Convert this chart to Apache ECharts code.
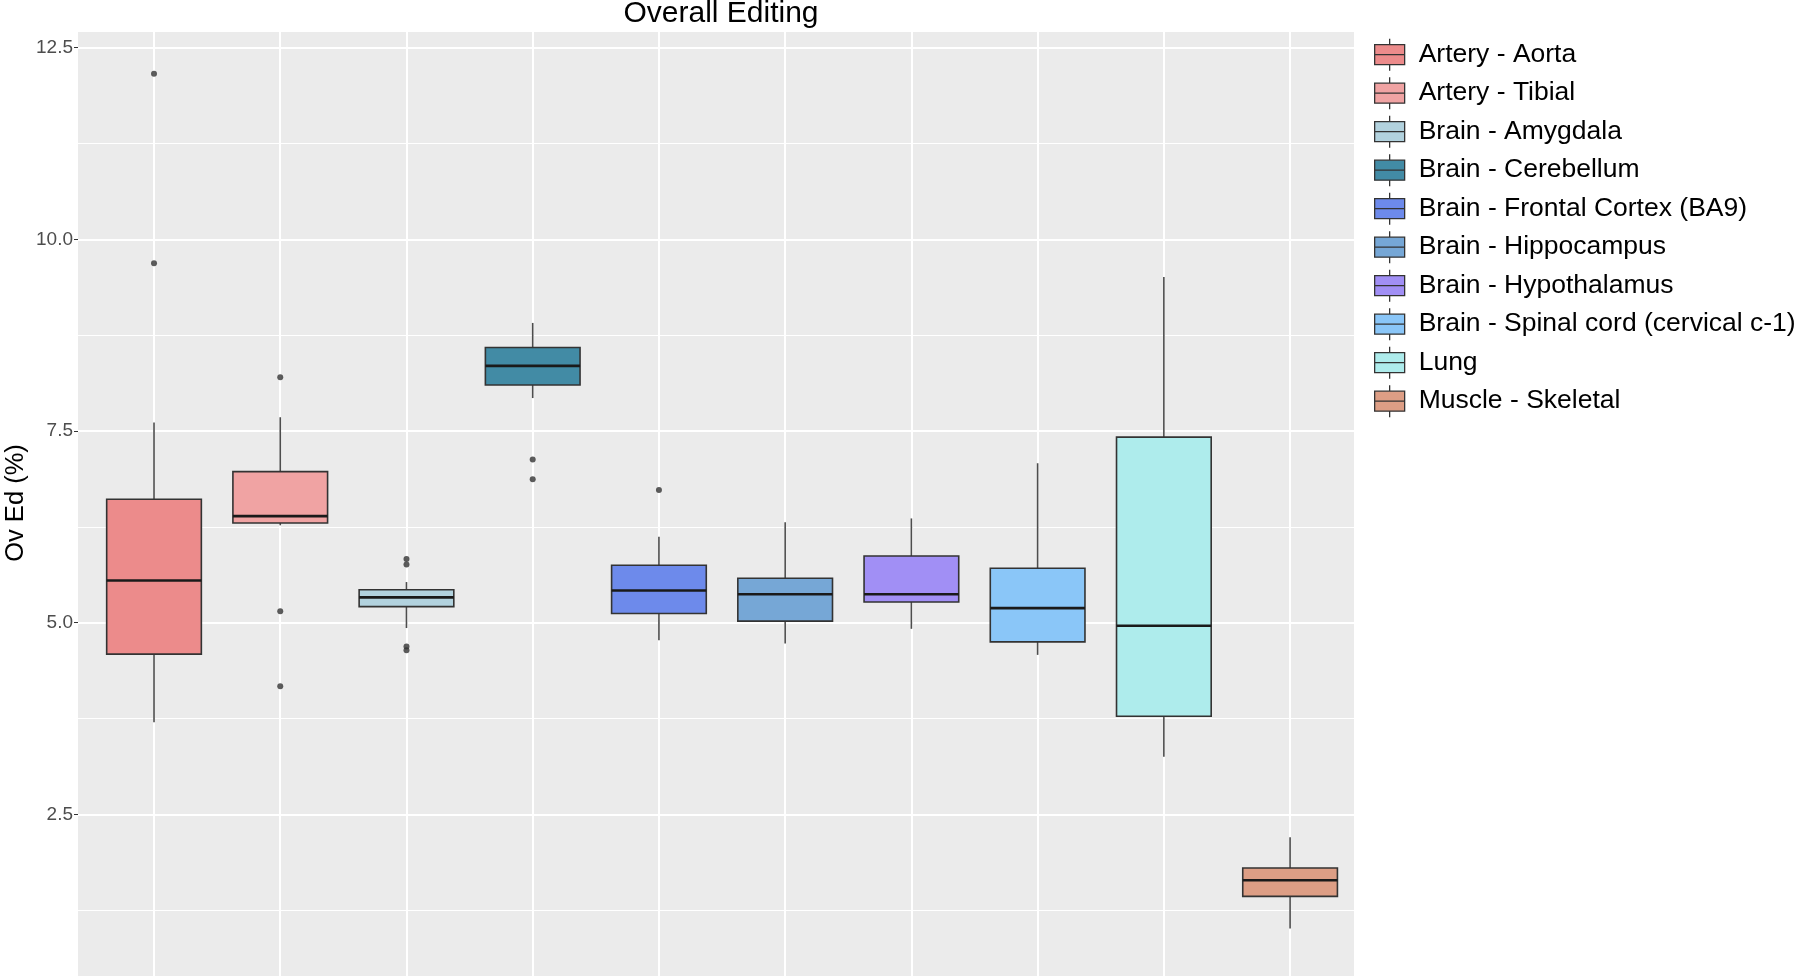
<!DOCTYPE html>
<html>
<head>
<meta charset="utf-8">
<title>Overall Editing</title>
<script src="https://cdn.jsdelivr.net/npm/echarts@6/dist/echarts.min.js"></script>
<style>
  html, body { margin: 0; padding: 0; background: #fff; }
  #main { width: 1800px; height: 976px; }
</style>
</head>
<body>
<div id="main"></div>
<script>
// tissues, in legend order
var tissues = [
  'Artery - Aorta',
  'Artery - Tibial',
  'Brain - Amygdala',
  'Brain - Cerebellum',
  'Brain - Frontal Cortex (BA9)',
  'Brain - Hippocampus',
  'Brain - Hypothalamus',
  'Brain - Spinal cord (cervical c-1)',
  'Lung',
  'Muscle - Skeletal'
];
// box stats
var whiskerLow = [3.70, 6.27, 4.93, 7.93, 4.77, 4.73, 4.92, 4.58, 3.25, 1.01];
var q1         = [4.59, 6.30, 5.21, 8.10, 5.12, 5.02, 5.27, 4.75, 3.78, 1.43];
var median     = [5.55, 6.39, 5.33, 8.35, 5.42, 5.37, 5.37, 5.19, 4.96, 1.64];
var q3         = [6.61, 6.97, 5.43, 8.59, 5.75, 5.58, 5.87, 5.71, 7.42, 1.80];
var whiskerHigh= [7.61, 7.68, 5.53, 8.91, 6.12, 6.31, 6.36, 7.08, 9.51, 2.20];
var outliers = [
  [12.16, 9.69],
  [8.20, 5.15, 4.17],
  [5.83, 5.76, 4.69, 4.64],
  [7.13, 6.87],
  [6.73],
  [], [], [], [], []
];
var fills = ['#EC8B8B', '#F0A3A3', '#B2D2DE', '#428BA5', '#6D8AEB',
             '#76A7D6', '#A18FF5', '#8AC6F8', '#AEECEC', '#DD9E85'];
var yTicks = [2.5, 5.0, 7.5, 10.0, 12.5];

var myChart = echarts.init(document.getElementById('main'));

// box without whisker caps, like ggplot
var renderBox = function (params, api) {
  var x = api.value(0);
  var lo = api.coord([x, api.value(1)]);
  var b1 = api.coord([x, api.value(2)]);
  var md = api.coord([x, api.value(3)]);
  var b3 = api.coord([x, api.value(4)]);
  var hi = api.coord([x, api.value(5)]);
  var w = api.size([1, 0])[0] * 0.75;
  var whisker = { stroke: '#4d4d4d', lineWidth: 1.6 };
  return {
    type: 'group',
    children: [
      { type: 'line', shape: { x1: lo[0], y1: lo[1], x2: b1[0], y2: b1[1] }, style: whisker },
      { type: 'line', shape: { x1: hi[0], y1: hi[1], x2: b3[0], y2: b3[1] }, style: whisker },
      { type: 'rect', shape: { x: md[0] - w / 2, y: b3[1], width: w, height: b1[1] - b3[1] },
        style: { fill: api.visual('color'), stroke: '#333', lineWidth: 1.6 } },
      { type: 'line', shape: { x1: md[0] - w / 2, y1: md[1], x2: md[0] + w / 2, y2: md[1] },
        style: { stroke: '#1a1a1a', lineWidth: 2.6 } }
    ]
  };
}

var series = tissues.map(function (name, i) {
  return {
    name: name,
    type: 'custom',
    xAxisIndex: 1,
    yAxisIndex: 1,
    renderItem: renderBox,
    itemStyle: { color: fills[i] },
    encode: { x: 0, y: [1, 2, 3, 4, 5] },
    data: [[i, whiskerLow[i], q1[i], median[i], q3[i], whiskerHigh[i]]],
    z: 3
  };
});

var outlierData = [];
outliers.forEach(function (list, i) {
  list.forEach(function (v) { outlierData.push([i, v]); });
});
series.push({
  name: 'outliers',
  type: 'scatter',
  xAxisIndex: 1,
  yAxisIndex: 1,
  data: outlierData,
  symbolSize: 6,
  itemStyle: { color: '#333' },
  z: 4
});

var font = 'Liberation Sans, Arial, sans-serif';
var option = {
  animation: false,
  backgroundColor: '#fff',
  textStyle: { fontFamily: font },
  title: {
    text: 'Overall Editing',
    left: 716,
    textAlign: 'center',
    top: -6,
    textStyle: { fontSize: 30, fontWeight: 'normal', color: '#000' }
  },
  legend: {
    data: tissues,
    orient: 'vertical',
    left: 1374,
    top: 38,
    padding: 0,
    itemWidth: 30,
    itemHeight: 32,
    itemGap: 5.2,
    icon: 'path://M15,0 L15,6 M0,6 L30,6 L30,26 L0,26 Z M0,16 L30,16 M15,26 L15,32',
    itemStyle: { borderColor: '#333', borderWidth: 1.3 },
    textStyle: { fontSize: 26.5, lineHeight: 32, color: '#000', padding: [0, 0, 0, 9] },
    selectedMode: false
  },
  graphic: [{
    type: 'rect',
    z: -10,
    silent: true,
    shape: { x: 78, y: 32, width: 1276, height: 944 },
    style: { fill: '#EBEBEB' }
  }, {
    type: 'text',
    x: 16,
    y: 503,
    rotation: Math.PI / 2,
    style: {
      text: 'Ov Ed (%)',
      fontSize: 25.5,
      fill: '#000',
      fontFamily: font,
      textAlign: 'center',
      textVerticalAlign: 'middle'
    }
  }],
  grid: [
    // y ticks and horizontal grid lines across the whole panel
    { left: 78, width: 1276, top: 47.7, height: 958.3, outerBoundsMode: 'none' },
    // the boxes, with ggplot's wider left padding
    { left: 90.9, width: 1262.3, top: 32, height: 974, outerBoundsMode: 'none' }
  ],
  xAxis: [{
    gridIndex: 0,
    type: 'category',
    data: tissues,
    show: false
  }, {
    gridIndex: 1,
    type: 'category',
    data: tissues.map(function (t, i) { return i; }),
    boundaryGap: true,
    axisLine: { show: false },
    axisTick: { show: false },
    axisLabel: { show: false },
    splitLine: { show: true, alignWithLabel: true, lineStyle: { color: '#fff', width: 2 } }
  }],
  yAxis: [{
    gridIndex: 0,
    type: 'value',
    min: 0,
    max: 12.5,
    interval: 2.5,
    axisLine: { show: false },
    axisTick: { show: true, length: 4, lineStyle: { color: '#333' } },
    axisLabel: {
      margin: 5,
      fontSize: 19,
      color: '#4d4d4d',
      formatter: function (v) {
        return yTicks.indexOf(Math.round(v * 10) / 10) >= 0 ? v.toFixed(1) : '';
      }
    },
    splitLine: { lineStyle: { color: '#fff', width: 2 } },
    minorTick: { show: false, splitNumber: 2 },
    minorSplitLine: { show: true, lineStyle: { color: '#fff', width: 1 } }
  }, {
    gridIndex: 1,
    type: 'value',
    min: 0,
    max: 12.705,
    show: false,
    splitLine: { show: false }
  }],
  series: series
};
myChart.setOption(option);
</script>
</body>
</html>
